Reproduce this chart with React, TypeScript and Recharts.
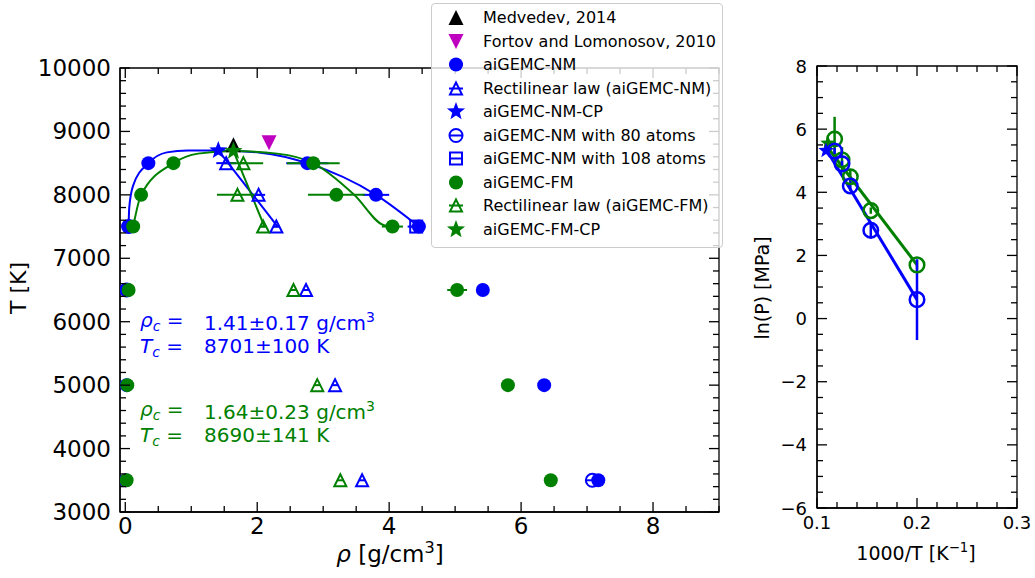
import { ComposedChart, Scatter, Line, XAxis, YAxis, ErrorBar, ReferenceArea, Legend } from 'recharts';

const BLUE = '#0000ff';
const GREEN = '#008000';
const MAGENTA = '#bf00bf';
const FONT = '"DejaVu Sans", sans-serif';

// ---- left panel: rho [g/cm3] vs T [K] ----
const medvedev = [{ x: 1.64, y: 8790 }];
const fortovLomonosov = [{ x: 2.18, y: 8820 }];

const nmPoints = [
  { x: 0.35, y: 8500, ex: 0 }, { x: 2.76, y: 8500, ex: 0.32 },
  { x: 3.8, y: 8000, ex: 0.2 },
  { x: 0.05, y: 7500, ex: 0 }, { x: 4.45, y: 7500, ex: 0.1 },
  { x: 0.03, y: 6500, ex: 0 }, { x: 5.42, y: 6500, ex: 0 },
  { x: 0.02, y: 5000, ex: 0 }, { x: 6.35, y: 5000, ex: 0 },
  { x: 0.01, y: 3500, ex: 0 }, { x: 7.17, y: 3500, ex: 0 },
];
const nmRectilinear = [
  { x: 1.53, y: 8500, ex: 0.15 }, { x: 2.02, y: 8000, ex: 0.1 },
  { x: 2.29, y: 7500, ex: 0.04 }, { x: 2.74, y: 6500, ex: 0 },
  { x: 3.18, y: 5000, ex: 0 }, { x: 3.59, y: 3500, ex: 0 },
];
const nmCP = [{ x: 1.41, y: 8701 }];
const nm80 = [
  { x: 0.05, y: 7500, ex: 0 }, { x: 0.02, y: 6500, ex: 0 }, { x: 7.08, y: 3500, ex: 0 },
];
const nm108 = [{ x: 4.41, y: 7500, ex: 0.13 }];

const fmPoints = [
  { x: 0.73, y: 8500, ex: 0 }, { x: 2.85, y: 8500, ex: 0.4 },
  { x: 0.24, y: 8000, ex: 0 }, { x: 3.2, y: 8000, ex: 0.43 },
  { x: 0.12, y: 7500, ex: 0 }, { x: 4.05, y: 7500, ex: 0.16 },
  { x: 0.05, y: 6500, ex: 0 }, { x: 5.03, y: 6500, ex: 0.15 },
  { x: 0.03, y: 5000, ex: 0 }, { x: 5.8, y: 5000, ex: 0 },
  { x: 0.02, y: 3500, ex: 0 }, { x: 6.45, y: 3500, ex: 0 },
];
const fmRectilinear = [
  { x: 1.79, y: 8500, ex: 0.3 }, { x: 1.7, y: 8000, ex: 0.31 },
  { x: 2.09, y: 7500, ex: 0.04 }, { x: 2.55, y: 6500, ex: 0 },
  { x: 2.91, y: 5000, ex: 0 }, { x: 3.26, y: 3500, ex: 0 },
];
const fmCP = [{ x: 1.64, y: 8690 }];

// fitted coexistence curves
const nmFit = [
  { x: 0.05, y: 7500 }, { x: 0.06, y: 7800 }, { x: 0.12, y: 8150 }, { x: 0.35, y: 8500 },
  { x: 0.63, y: 8670 }, { x: 0.95, y: 8700 }, { x: 1.41, y: 8701 }, { x: 2.05, y: 8665 },
  { x: 2.76, y: 8500 }, { x: 3.8, y: 8000 }, { x: 4.45, y: 7500 },
];
const fmFit = [
  { x: 0.12, y: 7500 }, { x: 0.24, y: 8000 }, { x: 0.73, y: 8500 }, { x: 1.1, y: 8650 },
  { x: 1.64, y: 8690 }, { x: 2.3, y: 8650 }, { x: 2.85, y: 8500 }, { x: 3.47, y: 8000 },
  { x: 3.92, y: 7520 }, { x: 4.05, y: 7500 },
];
const nmRectLine = [{ x: 1.41, y: 8701 }, { x: 2.31, y: 7500 }];
const fmRectLine = [{ x: 1.64, y: 8690 }, { x: 2.11, y: 7500 }];

// ---- right panel: 1000/T vs ln(P) ----
const nmLnP = [
  { x: 0.1176, y: 5.31, ey: 0.1 }, { x: 0.125, y: 4.9, ey: 0.1 },
  { x: 0.1333, y: 4.2, ey: 0.15 }, { x: 0.1538, y: 2.8, ey: 0.27 },
  { x: 0.2, y: 0.6, ey: 1.28 },
];
const fmLnP = [
  { x: 0.1176, y: 5.69, ey: 0.7 }, { x: 0.125, y: 5.03, ey: 0.4 },
  { x: 0.1333, y: 4.49, ey: 0.25 }, { x: 0.1538, y: 3.42, ey: 0.1 },
  { x: 0.2, y: 1.7, ey: 0.15 },
];
const nmLnPCP = [{ x: 0.109, y: 5.32 }];
const fmLnPCP = [{ x: 0.111, y: 5.55 }];
const nmLnPFit = [{ x: 0.109, y: 5.37 }, { x: 0.2, y: 0.6 }];
const fmLnPFit = [{ x: 0.108, y: 5.53 }, { x: 0.2, y: 1.7 }];

// ---- ticks ----
const range = (a: number, b: number, step: number) => {
  const out: number[] = [];
  for (let v = a; v <= b + 1e-9; v += step) out.push(Math.round(v * 1000) / 1000);
  return out;
};
const rhoTicks = range(0, 9, 0.5);
const rhoLabels = [0, 2, 4, 6, 8];
const tempTicks = range(3000, 10000, 200);
const tempLabels = [3000, 4000, 5000, 6000, 7000, 8000, 9000, 10000];
const invTTicks = range(0.1, 0.3, 0.02);
const invTLabels = [0.1, 0.2, 0.3];
const lnPTicks = range(-6, 8, 0.5);
const lnPLabels = [-6, -4, -2, 0, 2, 4, 6, 8];

const legendItems = [
  { label: 'Medvedev, 2014', kind: 'triUp', color: '#000', bar: false },
  { label: 'Fortov and Lomonosov, 2010', kind: 'triDown', color: MAGENTA, bar: false },
  { label: 'aiGEMC-NM', kind: 'dot', color: BLUE, bar: true },
  { label: 'Rectilinear law (aiGEMC-NM)', kind: 'triOpen', color: BLUE, bar: true },
  { label: 'aiGEMC-NM-CP', kind: 'star', color: BLUE, bar: false },
  { label: 'aiGEMC-NM with 80 atoms', kind: 'ring', color: BLUE, bar: true },
  { label: 'aiGEMC-NM with 108 atoms', kind: 'square', color: BLUE, bar: true },
  { label: 'aiGEMC-FM', kind: 'dot', color: GREEN, bar: true },
  { label: 'Rectilinear law (aiGEMC-FM)', kind: 'triOpen', color: GREEN, bar: true },
  { label: 'aiGEMC-FM-CP', kind: 'star', color: GREEN, bar: false },
];

const criticalNotes = [
  { color: BLUE, rho: '1.41±0.17', temp: '8701±100', top: 320 },
  { color: GREEN, rho: '1.64±0.23', temp: '8690±141', top: 409 },
];

const fmt = (v: number) => (v < 0 ? '\u2212' + Math.abs(v) : String(v));

// marker glyphs (matplotlib style)
function Mark({ kind, cx, cy, color, s = 1, bar = false, sw = 2 }: { kind: string; cx: number; cy: number; color: string; s?: number; bar?: boolean; sw?: number }) {
  const hbar = bar ? <line x1={cx - 7} x2={cx + 7} y1={cy} y2={cy} stroke={color} strokeWidth={sw} /> : null;
  switch (kind) {
    case 'dot':
      return <g>{hbar}<circle cx={cx} cy={cy} r={7 * s} fill={color} /></g>;
    case 'triUp': {
      const r = 7.5 * s;
      return <polygon points={`${cx},${cy - r} ${cx - r},${cy + r} ${cx + r},${cy + r}`} fill={color} />;
    }
    case 'triDown': {
      const r = 7.5 * s;
      return <polygon points={`${cx},${cy + r} ${cx - r},${cy - r} ${cx + r},${cy - r}`} fill={color} />;
    }
    case 'triOpen': {
      const r = 6 * s;
      return (
        <g>
          <polygon points={`${cx},${cy - r} ${cx - r},${cy + r} ${cx + r},${cy + r}`} fill="none" stroke={color} strokeWidth={sw} />
          {hbar ?? <line x1={cx - r / 2} x2={cx + r / 2} y1={cy} y2={cy} stroke={color} strokeWidth={sw} />}
        </g>
      );
    }
    case 'star': {
      const ro = 9.5 * s, ri = 4 * s;
      const pts = Array.from({ length: 10 }, (_, i) => {
        const a = (-90 + i * 36) * Math.PI / 180;
        const rr = i % 2 === 0 ? ro : ri;
        return `${cx + rr * Math.cos(a)},${cy + rr * Math.sin(a)}`;
      }).join(' ');
      return <polygon points={pts} fill={color} />;
    }
    case 'ring':
      return (
        <g>
          <circle cx={cx} cy={cy} r={6.5 * s} fill="none" stroke={color} strokeWidth={sw} />
          {bar && <line x1={cx - 6.5 * s} x2={cx + 6.5 * s} y1={cy} y2={cy} stroke={color} strokeWidth={sw} />}
        </g>
      );
    case 'square': {
      const h = 6 * s;
      return (
        <g>
          <rect x={cx - h} y={cy - h} width={2 * h} height={2 * h} fill="none" stroke={color} strokeWidth={sw} />
          {hbar}
        </g>
      );
    }
    default:
      return null;
  }
}

const shape = (kind: string, color: string, s = 1, bar = false, sw = 2) => (p: any) =>
  <Mark kind={kind} cx={p.cx} cy={p.cy} color={color} s={s} bar={bar} sw={sw} />;

// inward ticks on both spines, labels only on major values
const xTick = (labels: number[], plotH: number, fontSize: number, dy: number) => (p: any) => {
  const { x, y, payload } = p;
  const major = labels.some(m => Math.abs(m - payload.value) < 1e-9);
  const len = major ? 10 : 6;
  return (
    <g>
      <line x1={x} x2={x} y1={y} y2={y - len} stroke="#000" strokeWidth={1.3} />
      <line x1={x} x2={x} y1={y - plotH} y2={y - plotH + len} stroke="#000" strokeWidth={1.3} />
      {major && (
        <text x={x} y={y + dy} textAnchor="middle" fontSize={fontSize} fontFamily={FONT} fill="#000">
          {fmt(payload.value)}
        </text>
      )}
    </g>
  );
};

const yTick = (labels: number[], plotW: number, fontSize: number, gap: number, dy: number) => (p: any) => {
  const { x, y, payload } = p;
  const major = labels.some(m => Math.abs(m - payload.value) < 1e-9);
  const len = major ? 10 : 6;
  return (
    <g>
      <line x1={x} x2={x + len} y1={y} y2={y} stroke="#000" strokeWidth={1.3} />
      <line x1={x + plotW} x2={x + plotW - len} y1={y} y2={y} stroke="#000" strokeWidth={1.3} />
      {major && (
        <text x={x - gap} y={y + dy} textAnchor="end" fontSize={fontSize} fontFamily={FONT} fill="#000">
          {fmt(payload.value)}
        </text>
      )}
    </g>
  );
};

function LegendBox() {
  return (
    <div
      style={{
        boxSizing: 'border-box', width: 292, height: 245, paddingTop: 2,
        border: '1px solid #cccccc', borderRadius: 4, background: 'rgba(255,255,255,0.8)',
        fontFamily: FONT, fontSize: 16, color: '#000',
      }}
    >
      {legendItems.map(item => (
        <div key={item.label} style={{ height: 23.5, display: 'flex', alignItems: 'center' }}>
          <svg width={44} height={23} style={{ marginLeft: 2, flex: 'none' }}>
            <Mark kind={item.kind} cx={22} cy={11.5} color={item.color} bar={item.bar} />
          </svg>
          <span style={{ marginLeft: 5, whiteSpace: 'nowrap' }}>{item.label}</span>
        </div>
      ))}
    </div>
  );
}

function Overlay() {
  const base = { position: 'absolute' as const, whiteSpace: 'nowrap' as const, lineHeight: 1, fontFamily: FONT };
  return (
    <div style={{ position: 'absolute', left: 0, top: 0, width: 1035, height: 578, pointerEvents: 'none' }}>
      <div style={{ ...base, left: 19, top: 288, fontSize: 22, transform: 'translate(-50%,-50%) rotate(-90deg)' }}>T [K]</div>
      <div style={{ ...base, left: 390, top: 553, fontSize: 23, transform: 'translate(-50%,-50%)' }}>
        <i>ρ</i> [g/cm<span style={{ fontSize: '0.7em', verticalAlign: '0.6em' }}>3</span>]
      </div>
      <div style={{ ...base, left: 762, top: 288, fontSize: 19, transform: 'translate(-50%,-50%) rotate(-90deg)' }}>ln(P) [MPa]</div>
      <div style={{ ...base, left: 916, top: 552, fontSize: 19, transform: 'translate(-50%,-50%)' }}>
        1000/T [K<span style={{ fontSize: '0.7em', verticalAlign: '0.6em' }}>−1</span>]
      </div>
      {criticalNotes.map(n => (
        <div key={n.rho} style={{ color: n.color, fontSize: 20 }}>
          <div style={{ ...base, left: 140, top: n.top - 10 }}>
            <i>ρ</i><i style={{ fontSize: 14, verticalAlign: -4 }}>c</i> =
          </div>
          <div style={{ ...base, left: 204, top: n.top - 10 }}>
            {n.rho} g/cm<span style={{ fontSize: 14, verticalAlign: '0.6em' }}>3</span>
          </div>
          <div style={{ ...base, left: 140, top: n.top + 16 }}>
            <i>T</i><i style={{ fontSize: 14, verticalAlign: -4 }}>c</i> =
          </div>
          <div style={{ ...base, left: 204, top: n.top + 16 }}>{n.temp} K</div>
        </div>
      ))}
    </div>
  );
}

export default function App() {
  const leftW = 730, leftH = 578;
  const rightW = 305;
  return (
    <div style={{ position: 'absolute', left: 0, top: 0, width: 1035, height: 578, background: '#fff', fontFamily: FONT }}>
      <div style={{ position: 'absolute', left: 0, top: 0 }}>
        <ComposedChart width={leftW} height={leftH} margin={{ top: 68, right: 11, bottom: 26, left: 60 }}>
          <XAxis
            type="number" dataKey="x" domain={[-0.08, 9]} allowDataOverflow ticks={rhoTicks} interval={0}
            height={40} tickSize={0} tickMargin={0} tickLine={false}
            axisLine={{ stroke: '#000', strokeWidth: 1.3 }}
            tick={xTick(rhoLabels, 444, 23, 22)}
          />
          <YAxis
            type="number" dataKey="y" domain={[3000, 10000]} allowDataOverflow ticks={tempTicks} interval={0}
            width={60} tickSize={0} tickMargin={0} tickLine={false}
            axisLine={{ stroke: '#000', strokeWidth: 1.3 }}
            tick={yTick(tempLabels, 599, 23, 9, 8)}
          />
          <ReferenceArea x1={-0.08} x2={9} y1={3000} y2={10000} fill="none" stroke="#000" strokeWidth={1.3} ifOverflow="visible" />
          <Line data={nmFit} dataKey="y" type="monotone" stroke={BLUE} strokeWidth={2} dot={false} isAnimationActive={false} />
          <Line data={fmFit} dataKey="y" type="monotone" stroke={GREEN} strokeWidth={2} dot={false} isAnimationActive={false} />
          <Line data={nmRectLine} dataKey="y" type="linear" stroke={BLUE} strokeWidth={2} dot={false} isAnimationActive={false} />
          <Line data={fmRectLine} dataKey="y" type="linear" stroke={GREEN} strokeWidth={2} dot={false} isAnimationActive={false} />
          <Scatter data={medvedev} dataKey="y" shape={shape('triUp', '#000')} isAnimationActive={false} />
          <Scatter data={fortovLomonosov} dataKey="y" shape={shape('triDown', MAGENTA)} isAnimationActive={false} />
          <Scatter data={nmPoints} dataKey="y" shape={shape('dot', BLUE)} isAnimationActive={false}>
            <ErrorBar dataKey="ex" direction="x" width={0} stroke={BLUE} strokeWidth={2} />
          </Scatter>
          <Scatter data={nmRectilinear} dataKey="y" shape={shape('triOpen', BLUE)} isAnimationActive={false}>
            <ErrorBar dataKey="ex" direction="x" width={0} stroke={BLUE} strokeWidth={2} />
          </Scatter>
          <Scatter data={nmCP} dataKey="y" shape={shape('star', BLUE)} isAnimationActive={false} />
          <Scatter data={nm80} dataKey="y" shape={shape('ring', BLUE, 1, true)} isAnimationActive={false}>
            <ErrorBar dataKey="ex" direction="x" width={0} stroke={BLUE} strokeWidth={2} />
          </Scatter>
          <Scatter data={nm108} dataKey="y" shape={shape('square', BLUE, 1, true)} isAnimationActive={false}>
            <ErrorBar dataKey="ex" direction="x" width={0} stroke={BLUE} strokeWidth={2} />
          </Scatter>
          <Scatter data={fmPoints} dataKey="y" shape={shape('dot', GREEN)} isAnimationActive={false}>
            <ErrorBar dataKey="ex" direction="x" width={0} stroke={GREEN} strokeWidth={2} />
          </Scatter>
          <Scatter data={fmRectilinear} dataKey="y" shape={shape('triOpen', GREEN)} isAnimationActive={false}>
            <ErrorBar dataKey="ex" direction="x" width={0} stroke={GREEN} strokeWidth={2} />
          </Scatter>
          <Scatter data={fmCP} dataKey="y" shape={shape('star', GREEN)} isAnimationActive={false} />
          <Legend
            layout="vertical" align="center" verticalAlign="middle"
            wrapperStyle={{ left: 431, top: 3, width: 292, height: 245 }}
            content={() => <LegendBox />}
          />
        </ComposedChart>
      </div>
      <div style={{ position: 'absolute', left: 730, top: 0 }}>
        <ComposedChart width={rightW} height={578} margin={{ top: 66, right: 18, bottom: 30, left: 27 }}>
          <XAxis
            type="number" dataKey="x" domain={[0.1, 0.3]} allowDataOverflow ticks={invTTicks} interval={0}
            height={40} tickSize={0} tickMargin={0} tickLine={false}
            axisLine={{ stroke: '#000', strokeWidth: 1.3 }}
            tick={xTick(invTLabels, 442, 18, 21)}
          />
          <YAxis
            type="number" dataKey="y" domain={[-6, 8]} allowDataOverflow ticks={lnPTicks} interval={0}
            width={60} tickSize={0} tickMargin={0} tickLine={false}
            axisLine={{ stroke: '#000', strokeWidth: 1.3 }}
            tick={yTick(lnPLabels, 200, 18, 10, 6.5)}
          />
          <ReferenceArea x1={0.1} x2={0.3} y1={-6} y2={8} fill="none" stroke="#000" strokeWidth={1.3} ifOverflow="visible" />
          <Line data={fmLnPFit} dataKey="y" type="linear" stroke={GREEN} strokeWidth={3} dot={false} isAnimationActive={false} />
          <Line data={nmLnPFit} dataKey="y" type="linear" stroke={BLUE} strokeWidth={3} dot={false} isAnimationActive={false} />
          <Scatter data={fmLnP} dataKey="y" shape={shape('ring', GREEN, 1.12, false, 2.5)} isAnimationActive={false}>
            <ErrorBar dataKey="ey" direction="y" width={0} stroke={GREEN} strokeWidth={2.5} />
          </Scatter>
          <Scatter data={fmLnPCP} dataKey="y" shape={shape('star', GREEN, 0.85)} isAnimationActive={false} />
          <Scatter data={nmLnP} dataKey="y" shape={shape('ring', BLUE, 1.12, false, 2.5)} isAnimationActive={false}>
            <ErrorBar dataKey="ey" direction="y" width={0} stroke={BLUE} strokeWidth={2.5} />
          </Scatter>
          <Scatter data={nmLnPCP} dataKey="y" shape={shape('star', BLUE, 0.85)} isAnimationActive={false} />
        </ComposedChart>
      </div>
      <Overlay />
    </div>
  );
}
